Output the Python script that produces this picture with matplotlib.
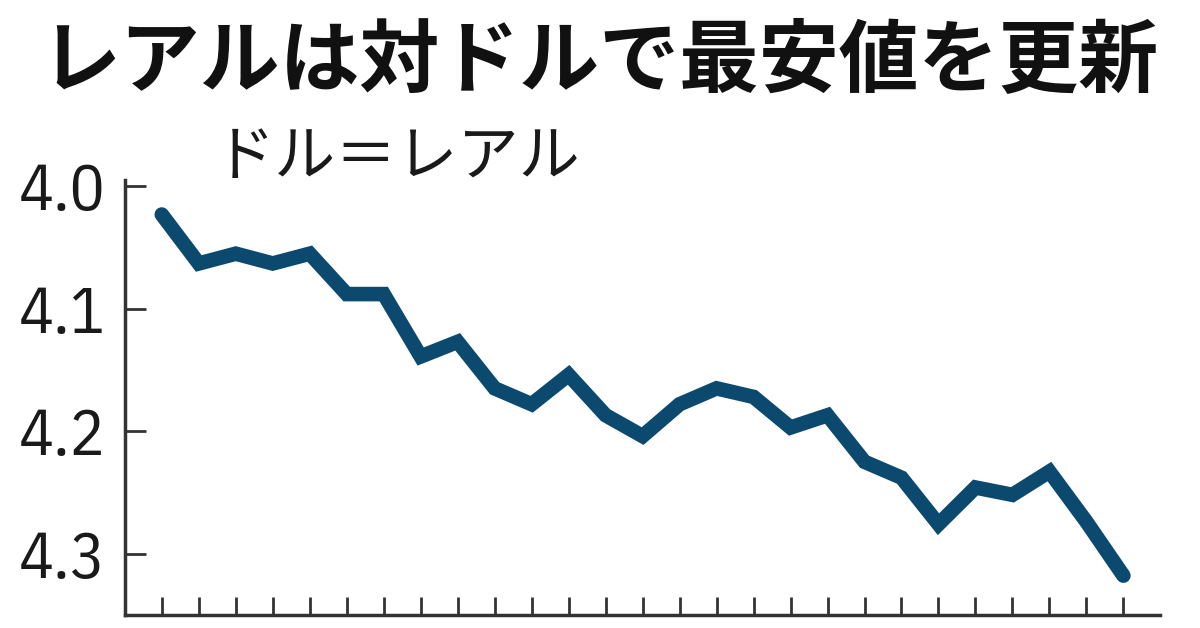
import matplotlib
matplotlib.use("Agg")
import matplotlib.pyplot as plt
from matplotlib.ticker import FixedLocator

# ---- data ----
title = "レアルは対ドルで最安値を更新"
unit_label = "ドル＝レアル"
rates = [4.023, 4.063, 4.055, 4.063, 4.055, 4.088, 4.088, 4.139, 4.127,
         4.165, 4.178, 4.154, 4.187, 4.204, 4.178, 4.165, 4.172, 4.197,
         4.187, 4.225, 4.238, 4.276, 4.246, 4.252, 4.233, 4.274, 4.318]
y_ticks = [4.0, 4.1, 4.2, 4.3]
y_tick_labels = ["4.0", "4.1", "4.2", "4.3"]

line_color = "#0b4a6e"
axis_color = "#333333"

fig = plt.figure(figsize=(12, 6.28), dpi=100)
ax = fig.add_axes([0.104, 0.021, 0.863, 0.692])

x = list(range(len(rates)))
ax.plot(x, rates, color=line_color, linewidth=10.5, solid_joinstyle="miter",
        solid_capstyle="round")

ax.set_xlim(-1, len(rates))
ax.set_ylim(4.35, 3.995)

ax.spines["top"].set_visible(False)
ax.spines["right"].set_visible(False)
for s in ("left", "bottom"):
    ax.spines[s].set_color(axis_color)
    ax.spines[s].set_linewidth(2.5)

ax.xaxis.set_major_locator(FixedLocator(x))
ax.set_xticklabels([])
ax.tick_params(axis="x", direction="in", length=13, width=2, color=axis_color)

ax.set_yticks(y_ticks)
ax.set_yticklabels(y_tick_labels, family=["IBM Plex Sans Condensed", "DejaVu Sans"],
                   fontweight="normal", fontsize=47, color="#1a1a1a")
ax.tick_params(axis="y", direction="in", length=15, width=2, color=axis_color, pad=14)

fig.text(0.034, 1 - 62 / 628, title, family=["Noto Sans CJK JP", "DejaVu Sans"],
         fontsize=57.5, fontweight="bold", color="#111111", va="center", ha="left")
fig.text(0.178, 1 - 158 / 628, unit_label, family=["Noto Sans CJK JP", "DejaVu Sans"],
         fontsize=44, fontweight="normal", color="#1a1a1a", va="center", ha="left")

fig.savefig("out.png", dpi=100, facecolor="white")
